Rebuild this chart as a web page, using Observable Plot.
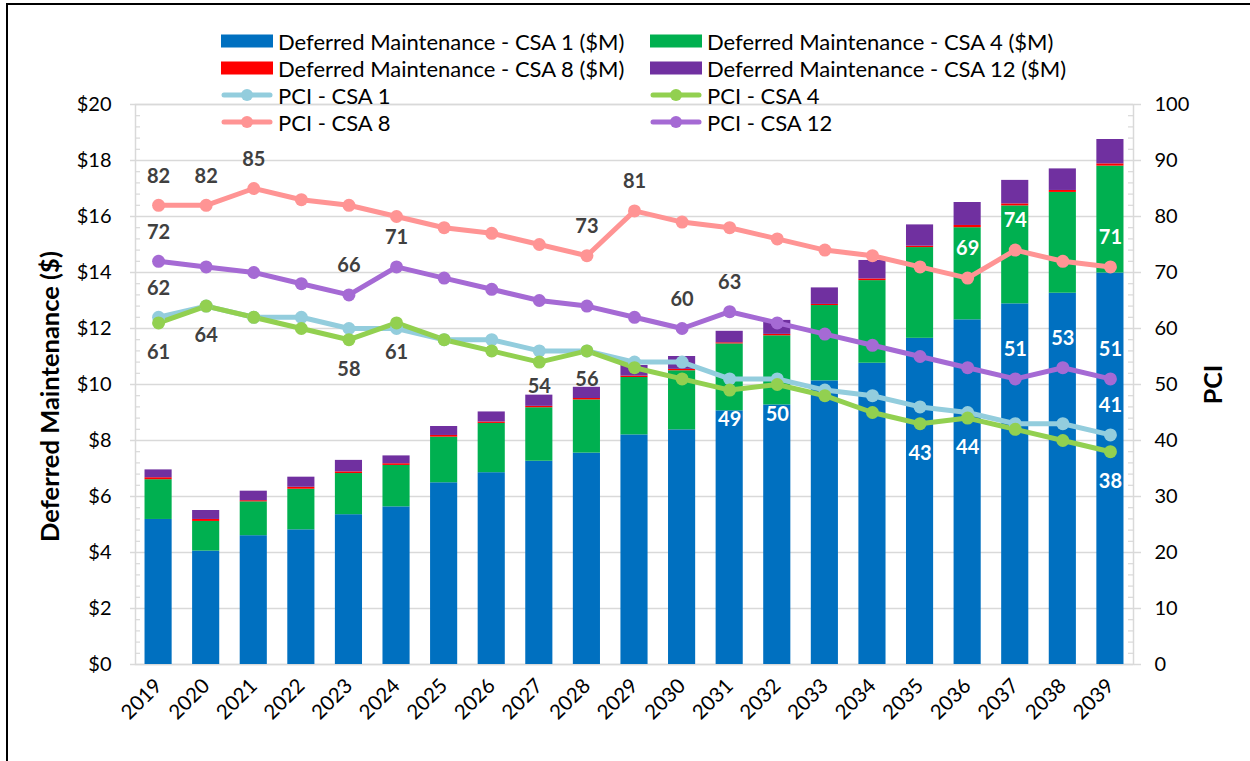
<!DOCTYPE html>
<html>
<head>
<meta charset="utf-8">
<script src="https://cdn.jsdelivr.net/npm/d3@7"></script>
<script src="https://cdn.jsdelivr.net/npm/@observablehq/plot@0.6"></script>
<style>
  html, body { margin: 0; padding: 0; background: #fff; }
  #wrap { position: relative; width: 1250px; height: 761px; overflow: hidden; font-family: Lato, "Liberation Sans", sans-serif; }
  #wrap svg.plot { position: absolute; left: 0; top: 0; }
  #border { position: absolute; left: 6px; top: 3px; width: 1300px; height: 800px; border-left: 2px solid #000; border-top: 2px solid #000; box-sizing: border-box; pointer-events: none; }
  .lg { position: absolute; display: flex; align-items: center; height: 26px; font-size: 22px; color: #000; white-space: nowrap; }
  .lg svg { margin-right: 5px; flex: none; }
</style>
</head>
<body>
<div id="wrap"><div id="border"></div></div>
<script>
// ---------- data ----------
const years = ["2019","2020","2021","2022","2023","2024","2025","2026","2027","2028","2029","2030","2031","2032","2033","2034","2035","2036","2037","2038","2039"];

const dmCSA1  = [5.18,4.05,4.60,4.81,5.35,5.63,6.49,6.85,7.26,7.55,8.20,8.38,9.06,9.27,10.13,10.76,11.65,12.31,12.88,13.26,13.98];
const dmCSA4  = [1.42,1.06,1.21,1.45,1.47,1.48,1.63,1.76,1.91,1.90,2.05,2.11,2.39,2.47,2.69,2.95,3.24,3.29,3.50,3.60,3.82];
const dmCSA8  = [0.07,0.07,0.04,0.07,0.06,0.06,0.06,0.05,0.05,0.05,0.05,0.05,0.04,0.05,0.04,0.06,0.05,0.08,0.07,0.07,0.08];
const dmCSA12 = [0.28,0.32,0.34,0.36,0.41,0.28,0.32,0.36,0.40,0.40,0.38,0.46,0.41,0.50,0.59,0.66,0.76,0.82,0.84,0.77,0.87];

const pciCSA1  = [62,64,62,62,60,60,58,58,56,56,54,54,51,51,49,48,46,45,43,43,41];
const pciCSA4  = [61,64,62,60,58,61,58,56,54,56,53,51,49,50,48,45,43,44,42,40,38];
const pciCSA8  = [82,82,85,83,82,80,78,77,75,73,81,79,78,76,74,73,71,69,74,72,71];
const pciCSA12 = [72,71,70,68,66,71,69,67,65,64,62,60,63,61,59,57,55,53,51,53,51];

// years whose PCI value is shown as a data label
const labelYearsCSA1  = ["2019","2039"];
const labelYearsCSA4  = ["2019","2020","2023","2024","2027","2028","2031","2032","2035","2036","2039"];
const labelYearsCSA8  = ["2019","2020","2021","2028","2029","2036","2037","2039"];
const labelYearsCSA12 = ["2019","2023","2024","2030","2031","2037","2038","2039"];

const barNames  = ["Deferred Maintenance - CSA 1 ($M)","Deferred Maintenance - CSA 4 ($M)","Deferred Maintenance - CSA 8 ($M)","Deferred Maintenance - CSA 12 ($M)"];
const lineNames = ["PCI - CSA 1","PCI - CSA 4","PCI - CSA 8","PCI - CSA 12"];

const leftTicks  = [0,2,4,6,8,10,12,14,16,18,20];
const rightTicks = [0,10,20,30,40,50,60,70,80,90,100];
const leftTitle  = "Deferred Maintenance ($)";
const rightTitle = "PCI";

// ---------- styles ----------
const barColors  = ["#0070C0","#00B050","#FF0000","#7030A0"];
const lineColors = ["#93CDDD","#92D050","#FF9494","#A56AD4"];
const gridColor  = "#D9D9D9";
const PCI_PER_DOLLAR = 5;          // right axis 0..100 vs left axis 0..20
const labelAbove = [true, false, true, true];
const OFF_ABOVE = 1.04, OFF_BELOW = 1.07, CLEAR_BAR = 0.29; // label offsets in left-axis units

// ---------- table building ----------
const barSeries = [dmCSA1, dmCSA4, dmCSA8, dmCSA12];
const barData = [];
barSeries.forEach((vals, s) => vals.forEach((v, i) => barData.push({year: years[i], series: barNames[s], value: v})));

const pciSeries = [pciCSA1, pciCSA4, pciCSA8, pciCSA12];
const lineData = [];
pciSeries.forEach((vals, s) => vals.forEach((v, i) => lineData.push({year: years[i], series: lineNames[s], pci: v})));

const totals = years.map((y, i) => barSeries.reduce((a, arr) => a + arr[i], 0));

const labelYears = [labelYearsCSA1, labelYearsCSA4, labelYearsCSA8, labelYearsCSA12];
const labelData = [];
labelYears.forEach((ys, s) => ys.forEach(y => {
  const i = years.indexOf(y);
  const v = pciSeries[s][i];
  const base = v / PCI_PER_DOLLAR;
  let pos = labelAbove[s] ? base + OFF_ABOVE : base - OFF_BELOW;
  let onBar = pos < totals[i];
  // a label just above a bar top is nudged clear of the bar
  if (!labelAbove[s] && pos < totals[i] + CLEAR_BAR && pos > totals[i] - 0.6) { pos = totals[i] + CLEAR_BAR; onBar = false; }
  labelData.push({year: y, pci: v, pos, onBar});
}));

const minorTicks = d3.range(0, 20.01, 0.4).filter(v => Math.abs(v / 2 - Math.round(v / 2)) > 1e-6);

const yPci = d => d.pci / PCI_PER_DOLLAR;
const labelMark = (filterFn, fill) => Plot.text(labelData.filter(filterFn), {
  x: "year", y: "pos", text: d => String(d.pci), fill, fontWeight: "bold", fontSize: 20
});

const plot = Plot.plot({
  width: 1250,
  height: 761,
  marginLeft: 135,
  marginRight: 117,
  marginTop: 104,
  marginBottom: 97,
  className: "plot",
  style: {fontFamily: "Lato, 'Liberation Sans', sans-serif", fontSize: "20px", color: "#000", background: "transparent", overflow: "visible"},
  x: {domain: years, paddingInner: 0.43, paddingOuter: 0.2, round: false, label: null},
  y: {domain: [0, 20], label: null},
  color: {domain: [...barNames, ...lineNames], range: [...barColors, ...lineColors]},
  marks: [
    // grid + axes
    Plot.gridY(leftTicks, {stroke: gridColor, strokeOpacity: 1, strokeWidth: 1.5}),
    Plot.frame({stroke: gridColor, strokeWidth: 1.5}),
    Plot.axisY(leftTicks, {anchor: "left", tickSize: 5, tickPadding: 19, stroke: gridColor, strokeWidth: 1.5, fill: "#000", tickFormat: d => "$" + d, label: null, fontSize: 20}),
    Plot.axisY(minorTicks, {anchor: "left", tickSize: -5, tickPadding: 0, stroke: gridColor, strokeWidth: 1.2, tickFormat: () => "", label: null}),
    Plot.axisY(rightTicks.map(v => v / PCI_PER_DOLLAR), {anchor: "right", tickSize: 7, tickPadding: 14, stroke: gridColor, strokeWidth: 1.5, fill: "#000", tickFormat: d => String(Math.round(d * PCI_PER_DOLLAR)), label: null, fontSize: 20}),
    Plot.axisY(minorTicks, {anchor: "right", tickSize: -6, tickPadding: 0, stroke: gridColor, strokeWidth: 1.2, tickFormat: () => "", label: null}),
    Plot.axisX(years, {anchor: "bottom", tickSize: 0, tickPadding: 18, tickRotate: -45, label: null, fill: "#000", fontSize: 20.5}),
    // stacked bars
    Plot.barY(barData, Plot.stackY({x: "year", y: "value", fill: "series", order: null})),
    // PCI lines
    Plot.line(lineData, {x: "year", y: yPci, z: "series", stroke: "series", strokeWidth: 5, strokeLinejoin: "round", strokeLinecap: "round"}),
    Plot.dot(lineData, {x: "year", y: yPci, fill: "series", r: 6.5, stroke: null}),
    // data labels
    labelMark(d => !d.onBar, "#404040"),
    labelMark(d => d.onBar, "#FFFFFF"),
    // axis titles
    Plot.text([leftTitle], {frameAnchor: "left", textAnchor: "middle", rotate: -90, dx: -85, dy: 12, fontWeight: "bold", fontSize: 25.5, fill: "#000"}),
    Plot.text([rightTitle], {frameAnchor: "right", textAnchor: "middle", rotate: -90, dx: 80, fontWeight: "bold", fontSize: 25, fill: "#000"})
  ]
});
const wrap = document.getElementById("wrap");
wrap.appendChild(plot);

// ---------- legend (HTML, overlaid like the original) ----------
const legendItems = [
  {name: barNames[0], color: barColors[0], kind: "bar", col: 0, row: 0},
  {name: barNames[1], color: barColors[1], kind: "bar", col: 1, row: 0},
  {name: barNames[2], color: barColors[2], kind: "bar", col: 0, row: 1},
  {name: barNames[3], color: barColors[3], kind: "bar", col: 1, row: 1},
  {name: lineNames[0], color: lineColors[0], kind: "line", col: 0, row: 2},
  {name: lineNames[1], color: lineColors[1], kind: "line", col: 1, row: 2},
  {name: lineNames[2], color: lineColors[2], kind: "line", col: 0, row: 3},
  {name: lineNames[3], color: lineColors[3], kind: "line", col: 1, row: 3}
];
const colX = [221, 650];
const rowY = [41, 68, 95, 122];
legendItems.forEach(it => {
  const div = document.createElement("div");
  div.className = "lg";
  div.style.left = colX[it.col] + "px";
  div.style.top = (rowY[it.row] - 13) + "px";
  const sw = it.kind === "bar"
    ? `<svg width="52" height="14"><rect x="0" y="0.5" width="52" height="13" fill="${it.color}"/></svg>`
    : `<svg width="52" height="14"><line x1="3" y1="7" x2="49" y2="7" stroke="${it.color}" stroke-width="5" stroke-linecap="round"/><circle cx="26" cy="7" r="6" fill="${it.color}"/></svg>`;
  div.innerHTML = sw + `<span>${it.name}</span>`;
  wrap.appendChild(div);
});
</script>
</body>
</html>
